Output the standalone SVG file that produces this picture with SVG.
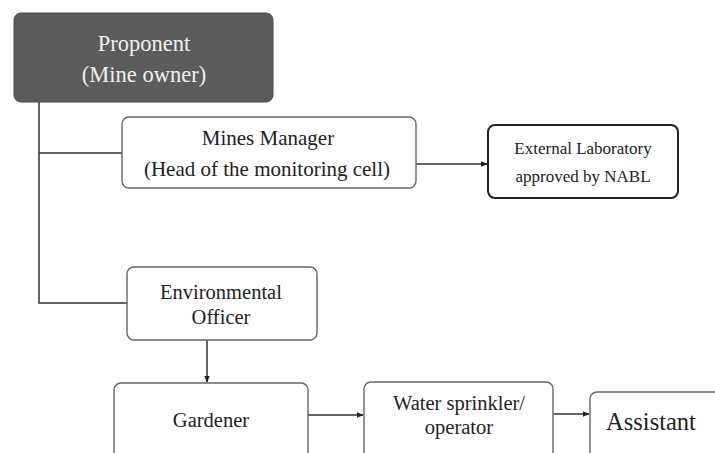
<svg xmlns="http://www.w3.org/2000/svg" width="715" height="453" viewBox="0 0 715 453">
<defs>
<marker id="arr" viewBox="0 0 10 10" refX="9" refY="5" markerWidth="7" markerHeight="7" orient="auto" markerUnits="userSpaceOnUse">
<path d="M0,1 L10,5 L0,9 Z" fill="#222"/>
</marker>
<style>
.box{fill:#fff;stroke:#666;stroke-width:1.4}
.t{font-family:"Liberation Serif","Times New Roman",serif;fill:#222;text-anchor:middle}
.c{fill:none;stroke:#333;stroke-width:1.5}
</style>
</defs>
<rect width="715" height="453" fill="#fff"/>
<g id="connectors">
<path class="c" d="M39,102 V303 H127"/>
<path class="c" d="M39,153 H122"/>
<path class="c" d="M416,164 H487" marker-end="url(#arr)"/>
<path class="c" d="M207,340 V382" marker-end="url(#arr)"/>
<path class="c" d="M308,415 H363" marker-end="url(#arr)"/>
<path class="c" d="M553,414 H589" marker-end="url(#arr)"/>
</g>
<g id="proponent">
<rect x="14" y="13" width="259" height="89" rx="7" fill="#5c5c5c" stroke="#4a4a4a" stroke-width="1"/>
<text class="t" x="144" y="51" font-size="22.5" style="fill:#f0f0f0">Proponent</text>
<text class="t" x="144" y="82" font-size="22.5" style="fill:#f0f0f0">(Mine owner)</text>
</g>
<g id="mines-manager">
<rect class="box" x="122" y="117" width="294" height="71" rx="7"/>
<text class="t" x="268" y="145" font-size="21">Mines Manager</text>
<text class="t" x="267" y="176" font-size="21">(Head of the monitoring cell)</text>
</g>
<g id="external-lab">
<rect class="box" x="488" y="125" width="190" height="73" rx="7" style="stroke:#222;stroke-width:2"/>
<text class="t" x="583" y="154" font-size="17">External  Laboratory</text>
<text class="t" x="583" y="182" font-size="17">approved by NABL</text>
</g>
<g id="environmental-officer">
<rect class="box" x="127" y="267" width="190" height="73" rx="7"/>
<text class="t" x="221" y="299" font-size="20.5">Environmental</text>
<text class="t" x="221" y="324" font-size="20.5">Officer</text>
</g>
<g id="gardener">
<rect class="box" x="114" y="383" width="194" height="80" rx="7"/>
<text class="t" x="211" y="427" font-size="20.5">Gardener</text>
</g>
<g id="water-sprinkler">
<rect class="box" x="364" y="382" width="189" height="80" rx="7"/>
<text class="t" x="459" y="410" font-size="20.5">Water sprinkler/</text>
<text class="t" x="459" y="434" font-size="20.5">operator</text>
</g>
<g id="assistant">
<rect class="box" x="590" y="392" width="140" height="70" rx="7"/>
<text class="t" x="651" y="430" font-size="24.5">Assistant</text>
</g>
</svg>
